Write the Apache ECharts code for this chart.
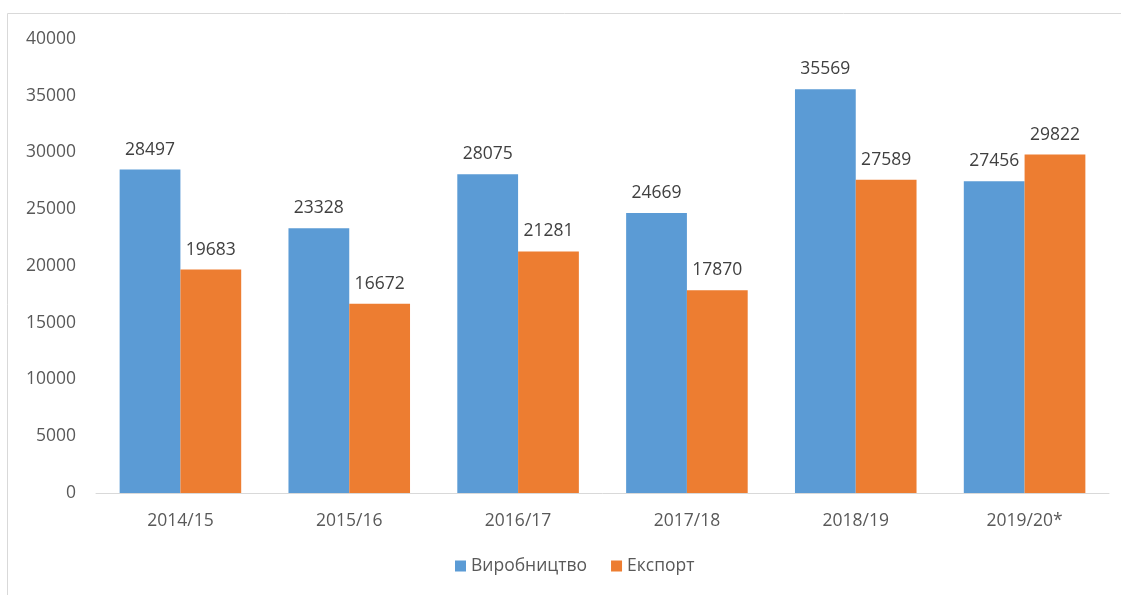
<!DOCTYPE html>
<html><head><meta charset="utf-8">
<script src="https://cdn.jsdelivr.net/npm/echarts@6/dist/echarts.min.js"></script>
<style>html,body{margin:0;padding:0;background:#fff}#c{width:1121px;height:595px}</style>
</head><body><div id="c"></div>
<script>
const categories = ['2014/15','2015/16','2016/17','2017/18','2018/19','2019/20*'];
const production = [28497,23328,28075,24669,35569,27456];
const exportVals = [19683,16672,21281,17870,27589,29822];
const seriesNames = ['Виробництво','Експорт'];
const FONT = '"Open Sans", "Noto Sans", sans-serif';
const FS = 17.5;
const chart = echarts.init(document.getElementById('c'));
const labelCfg = {show:true, position:'top', distance:11, color:'#404040', fontSize:FS, fontFamily:FONT};
chart.setOption({
  animation:false,
  graphic:[{type:'rect', shape:{x:7.5,y:13.5,width:1130,height:600}, style:{fill:'none',stroke:'#d9d9d9',lineWidth:1}, silent:true}],
  grid:{left:96,right:12,top:39,bottom:102},
  legend:{data:seriesNames, bottom:15, left:450, itemWidth:11, itemHeight:11, itemGap:24,
    textStyle:{color:'#595959',fontSize:FS,fontFamily:FONT}, icon:'rect'},
  xAxis:{type:'category', data:categories,
    axisLine:{lineStyle:{color:'#d9d9d9',width:1}}, axisTick:{show:false},
    axisLabel:{color:'#595959',fontSize:FS,fontFamily:FONT,margin:19}},
  yAxis:{type:'value', min:0, max:40000, interval:5000, splitLine:{show:false},
    axisLine:{show:false}, axisTick:{show:false},
    axisLabel:{color:'#595959',fontSize:FS,fontFamily:FONT,margin:20,formatter:function(v){return String(v);}}},
  series:[
    {name:seriesNames[0], type:'bar', data:production, barGap:'0%', barCategoryGap:'28%',
     itemStyle:{color:'#5b9bd5'}, label:labelCfg},
    {name:seriesNames[1], type:'bar', data:exportVals, barGap:'0%', barCategoryGap:'28%',
     itemStyle:{color:'#ed7d31'}, label:labelCfg}
  ]
});
</script></body></html>
